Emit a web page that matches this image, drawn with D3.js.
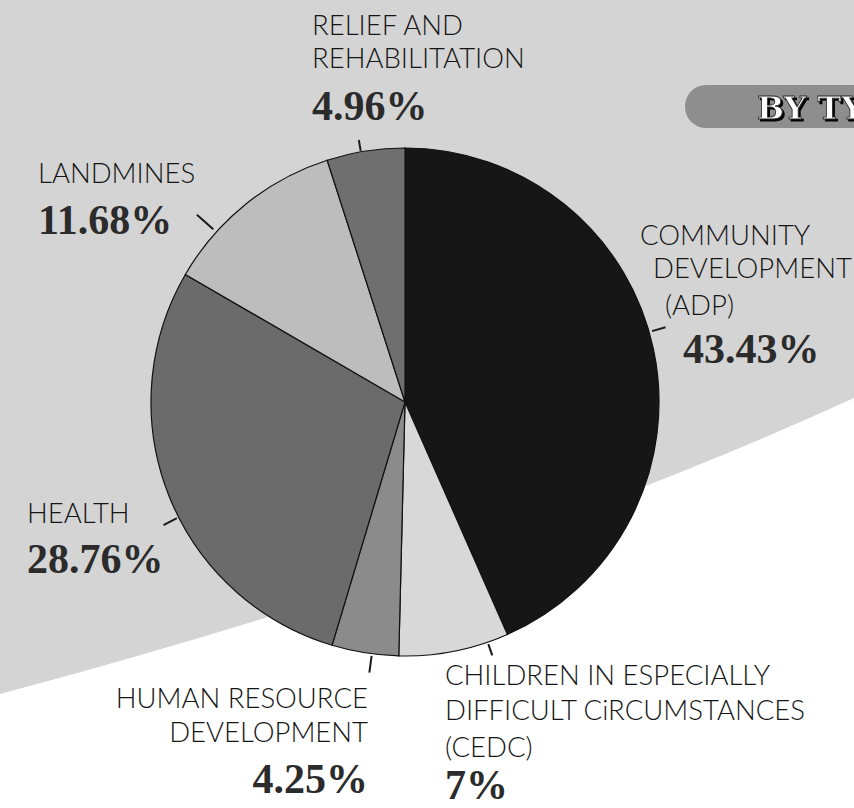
<html>
<head>
<script src="https://d3js.org/d3.v7.min.js"></script>
<style>
  body { margin: 0; background: #fff; }
  svg { display: block; }
</style>
</head>
<body>
<div id="chartContainer"></div>
<script>
// shares by programme type, clockwise from 12 o'clock
var categories = ["ADP", "CEDC", "HRD", "HEALTH", "LANDMINES", "RELIEF"];
var shares = [43.43, 7, 4.25, 28.76, 11.68, 4.96];
var shareLabels = ["43.43%", "7%", "4.25%", "28.76%", "11.68%", "4.96%"];
var labelLines = [
  ["COMMUNITY", "DEVELOPMENT", "(ADP)"],
  ["CHILDREN IN ESPECIALLY", "DIFFICULT CiRCUMSTANCES", "(CEDC)"],
  ["HUMAN RESOURCE", "DEVELOPMENT"],
  ["HEALTH"],
  ["LANDMINES"],
  ["RELIEF AND", "REHABILITATION"]
];
var sliceShades = ["#161616", "#d8d8d8", "#8b8b8b", "#6b6b6b", "#bdbdbd", "#6f6f6f"];

var W = 854, H = 808;
var cx = 405, cy = 402, R = 254;

var svg = d3.select("#chartContainer").append("svg")
  .attr("width", W).attr("height", H);

var defs = svg.append("defs");
var shadow = defs.append("filter").attr("id", "shadow")
  .attr("x", "-10%").attr("y", "-20%").attr("width", "130%").attr("height", "150%");
shadow.append("feDropShadow").attr("dx", 2).attr("dy", 2).attr("stdDeviation", 0.3)
  .attr("flood-color", "#000").attr("flood-opacity", 1);

// background: grey page with white sweep at the bottom right
svg.append("rect").attr("width", W).attr("height", H).attr("fill", "#d4d4d4");
svg.append("path")
  .attr("d", "M0,694 Q500,560 854,398 L854,808 L0,808 Z")
  .attr("fill", "#ffffff");

// "BY TYPE" tab, runs off the right edge as in the print
svg.append("rect")
  .attr("x", 685).attr("y", 85).attr("width", 220).attr("height", 43)
  .attr("rx", 21).attr("fill", "#8e8e8e");
svg.append("text").attr("x", 757).attr("y", 119)
  .style("font-family", "'DejaVu Serif', serif").style("font-weight", "bold")
  .style("font-size", "32px").attr("fill", "#fff")
  .attr("stroke", "#222").attr("stroke-width", 0.8)
  .attr("filter", "url(#shadow)")
  .text("BY TYPE");

var pie = d3.pie().sort(null).value(function (d) { return d; });
var arcs = pie(shares);
var arc = d3.arc().innerRadius(0).outerRadius(R);

var g = svg.append("g").attr("transform", "translate(" + cx + "," + cy + ")");
g.selectAll("path.slice")
  .data(arcs)
  .enter().append("path")
    .attr("class", "slice")
    .attr("d", arc)
    .attr("fill", function (d, i) { return sliceShades[i]; })
    .attr("stroke", "#111")
    .attr("stroke-width", 1.2);

// hand placed label layout (degrees clockwise from top for the tick)
var layout = [
  { tick: 74,  r0: 257, r1: 271, x: [640, 653, 665], y: [245, 278, 315], px: 683, py: 363, anchor: "start" },
  { tick: 161, r0: 256, r1: 268, x: [445, 445, 445], y: [685, 720, 757], px: 445, py: 799, anchor: "start" },
  { tick: 187.5, r0: 256, r1: 273, x: [368, 368], y: [708, 742], px: 368, py: 793, anchor: "end" },
  { tick: 243, r0: 256, r1: 271, x: [27], y: [523], px: 27, py: 573, anchor: "start" },
  { tick: 312, r0: 258, r1: 280, x: [38], y: [183], px: 38, py: 234, anchor: "start" },
  { tick: 350, r0: 255, r1: 266, x: [312, 312], y: [35, 68], px: 312, py: 120, anchor: "start" }
];

function polar(deg, r) {
  var a = deg * Math.PI / 180;
  return [cx + r * Math.sin(a), cy - r * Math.cos(a)];
}

svg.selectAll("line.tick")
  .data(layout)
  .enter().append("line")
    .attr("class", "tick")
    .attr("x1", function (d) { return polar(d.tick, d.r0)[0]; })
    .attr("y1", function (d) { return polar(d.tick, d.r0)[1]; })
    .attr("x2", function (d) { return polar(d.tick, d.r1)[0]; })
    .attr("y2", function (d) { return polar(d.tick, d.r1)[1]; })
    .attr("stroke", "#1a1a1a").attr("stroke-width", 2);

labelLines.forEach(function (lines, i) {
  var L = layout[i];
  lines.forEach(function (t, j) {
    svg.append("text")
      .attr("x", L.x[j]).attr("y", L.y[j])
      .attr("text-anchor", L.anchor)
      .style("font-family", "Lato, 'Open Sans', sans-serif")
      .style("font-weight", 300)
      .style("font-size", "27.5px")
      .attr("fill", "#151515")
      .text(t);
  });
  svg.append("text")
    .attr("x", L.px).attr("y", L.py)
    .attr("text-anchor", L.anchor)
    .style("font-family", "'Liberation Serif', serif")
    .style("font-weight", "bold")
    .style("font-size", "42px")
    .attr("fill", "#2b2b2b")
    .text(shareLabels[i]);
});
</script>
</body>
</html>
